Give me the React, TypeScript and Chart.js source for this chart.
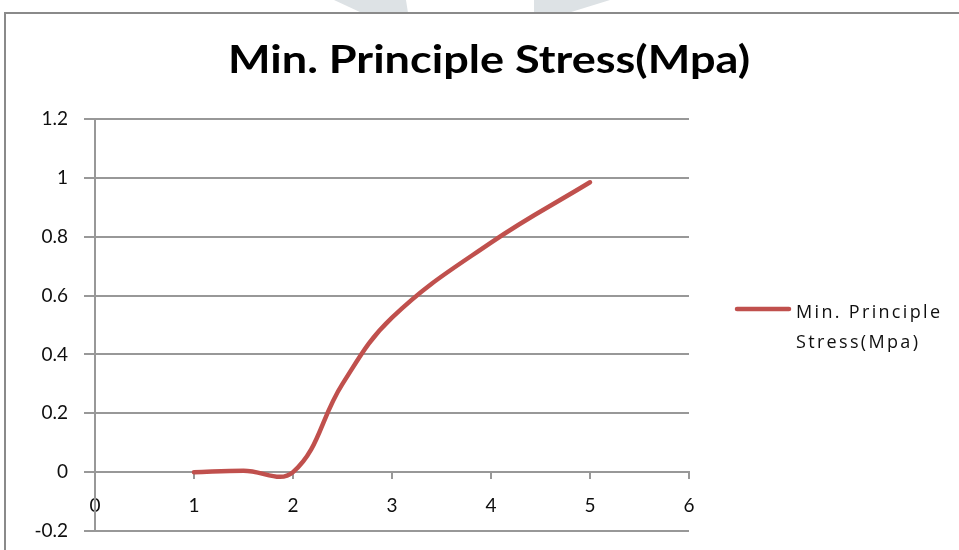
import React, { useEffect, useRef } from "react";
import { Chart, registerables } from "chart.js";

Chart.register(...registerables);

// ---- chart content ----
const TITLE = "Min. Principle Stress(Mpa)";
const SERIES_LABEL = "Min. Principle Stress(Mpa)";
const LEGEND_LINES = ["Min. Principle", "Stress(Mpa)"];

const distance = [1, 1.5, 2, 2.5, 3, 4, 5];
const minPrincipleStress = [0, 0.005, 0, 0.3, 0.525, 0.78, 0.985];

const xTickValues = [0, 1, 2, 3, 4, 5, 6];
const yTickValues = [-0.2, 0, 0.2, 0.4, 0.6, 0.8, 1, 1.2];

// ---- styling ----
const LINE_COLOR = "#c0504d";
const GRID_COLOR = "#989898";
const TEXT_COLOR = "#0f0f0f";
const FONT = "Lato, 'Open Sans', sans-serif";
const LEGEND_FONT = "'Open Sans', Lato, sans-serif";
const WIDTH = 959;
const HEIGHT = 550;

const fmt = (v: number) => String(Number(Number(v).toFixed(1)));

// White sheet, faint watermark bands and the outer chart frame.
const framePlugin = {
  id: "frame",
  beforeDraw(chart: any) {
    const { ctx, width, height } = chart;
    ctx.save();
    ctx.fillStyle = "#ffffff";
    ctx.fillRect(0, 0, width, height);
    ctx.fillStyle = "#dde2e5";
    ctx.beginPath();
    ctx.moveTo(334, 0);
    ctx.lineTo(406, 0);
    ctx.lineTo(408, 13);
    ctx.lineTo(362, 13);
    ctx.closePath();
    ctx.fill();
    ctx.beginPath();
    ctx.moveTo(534, 0);
    ctx.lineTo(610, 0);
    ctx.lineTo(568, 13);
    ctx.lineTo(534, 13);
    ctx.closePath();
    ctx.fill();
    ctx.strokeStyle = "#8a8a8a";
    ctx.lineWidth = 2;
    ctx.beginPath();
    ctx.moveTo(5, height + 2);
    ctx.lineTo(5, 13);
    ctx.lineTo(width + 2, 13);
    ctx.stroke();
    ctx.restore();
  },
};

// Bold chart title, centred over the chart frame.
const titlePlugin = {
  id: "bigTitle",
  afterDraw(chart: any) {
    const { ctx } = chart;
    ctx.save();
    ctx.font = `bold 39px ${FONT}`;
    const w = ctx.measureText(TITLE).width;
    const target = 522;
    ctx.translate(489, 73);
    ctx.scale(target / w, 1);
    ctx.textAlign = "center";
    ctx.textBaseline = "alphabetic";
    ctx.fillStyle = "#000000";
    ctx.fillText(TITLE, 0, 0);
    ctx.restore();
  },
};

// Legend on the right: line sample plus a two-line series name.
const sideLegendPlugin = {
  id: "sideLegend",
  afterDraw(chart: any) {
    const { ctx } = chart;
    const ds = chart.data.datasets[0];
    ctx.save();
    ctx.strokeStyle = ds.borderColor;
    ctx.lineWidth = 4.5;
    ctx.lineCap = "round";
    ctx.beginPath();
    ctx.moveTo(737, 309);
    ctx.lineTo(789, 309);
    ctx.stroke();

    ctx.font = `18px ${LEGEND_FONT}`;
    ctx.fillStyle = TEXT_COLOR;
    ctx.textAlign = "left";
    ctx.textBaseline = "alphabetic";
    const first = LEGEND_LINES[0];
    const natural = ctx.measureText(first).width;
    const spacing = Math.max(0, Math.min(3, (144 - natural) / (first.length - 1)));
    (ctx as any).letterSpacing = `${spacing}px`;
    ctx.fillText(LEGEND_LINES[0], 796, 318);
    ctx.fillText(LEGEND_LINES[1], 796, 348);
    ctx.restore();
  },
};

export default function App() {
  const canvasRef = useRef<HTMLCanvasElement | null>(null);

  useEffect(() => {
    const canvas = canvasRef.current;
    if (!canvas) return;

    const chart = new Chart(canvas, {
      type: "scatter",
      data: {
        datasets: [
          {
            label: SERIES_LABEL,
            data: distance.map((x, i) => ({ x, y: minPrincipleStress[i] })),
            showLine: true,
            borderColor: LINE_COLOR,
            backgroundColor: LINE_COLOR,
            borderWidth: 4.5,
            borderCapStyle: "round",
            borderJoinStyle: "round",
            tension: 0.4,
            pointRadius: 0,
            pointHoverRadius: 0,
          },
        ],
      },
      options: {
        responsive: false,
        animation: false,
        events: [],
        layout: {
          padding: { left: 0, top: 119, right: WIDTH - 689, bottom: HEIGHT - 531 },
        },
        plugins: {
          legend: { display: false },
          title: { display: false },
          tooltip: { enabled: false },
        },
        scales: {
          x: {
            type: "linear",
            position: { y: 0 } as any,
            min: xTickValues[0],
            max: xTickValues[xTickValues.length - 1],
            afterBuildTicks: (scale: any) => {
              scale.ticks = xTickValues.map((value) => ({ value }));
            },
            afterFit: (scale: any) => {
              scale.height = 0;
              scale.paddingTop = 0;
              scale.paddingBottom = 0;
            },
            ticks: {
              color: TEXT_COLOR,
              font: { family: FONT, size: 19 },
              padding: 16,
              maxRotation: 0,
              autoSkip: false,
              callback: (v: any) => fmt(v),
            },
            grid: {
              display: true,
              drawOnChartArea: false,
              drawTicks: true,
              tickLength: 6,
              color: GRID_COLOR,
              lineWidth: 2,
            },
            border: { display: true, color: GRID_COLOR, width: 2 },
          },
          y: {
            type: "linear",
            position: "left",
            min: yTickValues[0],
            max: yTickValues[yTickValues.length - 1],
            afterBuildTicks: (scale: any) => {
              scale.ticks = yTickValues.map((value) => ({ value }));
            },
            afterFit: (scale: any) => {
              scale.width = 95;
              scale.paddingTop = 0;
              scale.paddingBottom = 0;
            },
            ticks: {
              color: TEXT_COLOR,
              font: { family: FONT, size: 19 },
              padding: 16,
              autoSkip: false,
              callback: (v: any) => fmt(v),
            },
            grid: {
              color: GRID_COLOR,
              lineWidth: 2,
              tickLength: 11,
              drawTicks: true,
            },
            border: { display: true, color: GRID_COLOR, width: 2 },
          },
        },
      },
      plugins: [framePlugin, titlePlugin, sideLegendPlugin],
    });

    return () => chart.destroy();
  }, []);

  return (
    <div style={{ position: "absolute", left: 0, top: 0, width: WIDTH, height: HEIGHT }}>
      <canvas ref={canvasRef} width={WIDTH} height={HEIGHT} />
    </div>
  );
}
